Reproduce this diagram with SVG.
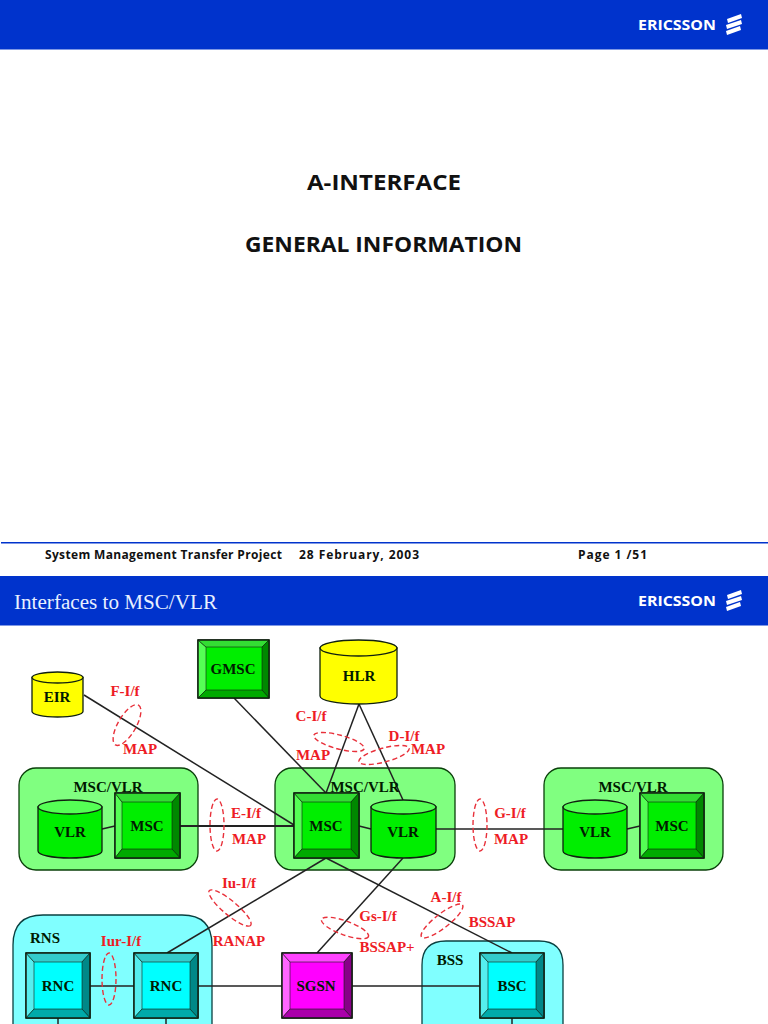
<svg xmlns="http://www.w3.org/2000/svg" width="768" height="1024" viewBox="0 0 768 1024">
<style>
.band{fill:#0033cc}
.logo{font:700 14.5px "Open Sans",sans-serif;fill:#fff}
.comic{font-family:"Open Sans",sans-serif;font-weight:700;fill:#111}
.b{font:700 15px "Liberation Serif",serif;fill:#001a00;text-anchor:middle}
.r{font:700 15px "Liberation Serif",serif;fill:#ee1c25;text-anchor:middle}
.c{stroke:#222;stroke-width:1.5;fill:none}
.d{fill:none;stroke:#e8303a;stroke-width:1.4;stroke-dasharray:5 3}
.o{stroke:#102010;stroke-width:1.3}
.e{stroke:#102010;stroke-width:.6;fill:none}
.gg{fill:#80ff80;stroke:#0a400a;stroke-width:1.3}
.cg{fill:#80ffff;stroke:#0a4040;stroke-width:1.3}
.yb{fill:#ffff00}.yt{fill:#ffff00}
.g0{fill:#00ee00}.g1{fill:#55ff55}.g2{fill:#33dd33}.g3{fill:#008800}.g4{fill:#00aa00}
.a0{fill:#00ffff}.a1{fill:#55eeee}.a2{fill:#33cccc}.a3{fill:#008888}.a4{fill:#00aaaa}
.m0{fill:#ff00ff}.m1{fill:#ff66ff}.m2{fill:#ff44ff}.m3{fill:#880088}.m4{fill:#aa00aa}
</style>
<defs>
<g id="stripes" fill="#fff"><path d="M727 19 741 14 742 18 728 23Z"/><path d="M726 25 741 20 742 24 727 29Z"/><path d="M726 31 740 26 741 30 727 35Z"/></g>
</defs>
<rect width="768" height="1024" fill="#fff"/>

<g id="slide1">
<rect class="band" width="768" height="49.500"/>
<text class="logo" x="638" y="30" textLength="78" lengthAdjust="spacingAndGlyphs">ERICSSON</text>
<use href="#stripes"/>
<text class="comic" x="307" y="190" font-size="21" textLength="154" lengthAdjust="spacingAndGlyphs">A-INTERFACE</text>
<text class="comic" x="245" y="252" font-size="21" textLength="277" lengthAdjust="spacingAndGlyphs">GENERAL INFORMATION</text>
<rect x="1" y="542" width="767" height="1.500" fill="#0033cc"/>
<text class="comic" x="45" y="558.500" font-size="12" textLength="237" lengthAdjust="spacing">System Management Transfer Project</text>
<text class="comic" x="299" y="558.500" font-size="12" textLength="120" lengthAdjust="spacing">28 February, 2003</text>
<text class="comic" x="578" y="558.500" font-size="12" textLength="69" lengthAdjust="spacing">Page 1 /51</text>
</g>

<g id="slide2-header">
<rect class="band" y="576" width="768" height="49.500"/>
<text x="14" y="609" font-family="'Liberation Serif',serif" font-size="20.500" fill="#e8f0ff" textLength="203" lengthAdjust="spacingAndGlyphs">Interfaces to MSC/VLR</text>
<text class="logo" x="638" y="606" textLength="78" lengthAdjust="spacingAndGlyphs">ERICSSON</text>
<use href="#stripes" y="576"/>
</g>

<g id="containers">
<rect id="group-left" class="gg" x="19" y="768" width="179" height="102" rx="17"/>
<rect id="group-center" class="gg" x="275" y="768" width="180" height="102" rx="17"/>
<rect id="group-right" class="gg" x="544" y="768" width="179" height="102" rx="17"/>
<path id="group-rns" class="cg" d="M13 1025V945Q13 915 43 915H182Q212 915 212 945V1025"/>
<path id="group-bss" class="cg" d="M422 1025V965Q422 941 446 941H539Q563 941 563 965V1025"/>
<text class="b" x="108" y="792">MSC/VLR</text>
<text class="b" x="633" y="792">MSC/VLR</text>
<text class="b" x="45" y="943">RNS</text>
<text class="b" x="450" y="965">BSS</text>
</g>

<g id="connectors">
<path class="c" d="M84 695 294 825"/>
<path class="c" d="M234 698 326 793"/>
<path class="c" d="M359 704 326 793"/>
<path class="c" d="M359 704 403 800"/>
<path class="c" style="stroke-width:2.200" d="M180 826H294"/>
<path class="c" d="M102 829 115 826"/>
<path class="c" d="M359 826 371 829"/>
<path class="c" d="M436 829H563"/>
<path class="c" d="M627 829 640 826"/>
<path class="c" d="M326 858 167 953"/>
<path class="c" d="M326 858 512 953"/>
<path class="c" d="M403 858 317 953"/>
<path class="c" d="M90 986H134"/>
<path class="c" d="M198 986H282"/>
<path class="c" d="M352 986H480"/>
<path class="c" d="M58 1018V1025"/>
<path class="c" d="M166 1018V1025"/>
<path class="c" d="M512 1018V1025"/>
</g>

<g id="EIR">
<path class="yb o" d="M32 677.500V711.500C32 714.500 43 717 57.500 717S83 714.500 83 711.500V677.500Z"/>
<ellipse class="yt o" cx="57.500" cy="677.500" rx="25.500" ry="5.500"/>
<text class="b" x="57" y="702">EIR</text>
</g>
<g id="HLR">
<path class="yb o" d="M320 648V696C320 700.500 337 704 358.500 704S397 700.500 397 696V648Z"/>
<ellipse class="yt o" cx="358.500" cy="648" rx="38.500" ry="8"/>
<text class="b" x="359" y="681">HLR</text>
</g>
<g id="GMSC">
<rect class="g0 o" x="198" y="640" width="71" height="58"/>
<path class="g1 e" d="M198 640 206 647V690L198 698Z"/>
<path class="g2 e" d="M198 640H269L262 647H206Z"/>
<path class="g3 e" d="M269 640V698L262 690V647Z"/>
<path class="g4 e" d="M198 698H269L262 690H206Z"/>
<rect class="o" x="198" y="640" width="71" height="58" fill="none"/>
<text class="b" x="233" y="674">GMSC</text>
</g>

<g id="VLR-left">
<path class="g0 o" d="M38 807V851C38 855 52 858 70 858S102 855 102 851V807Z"/>
<ellipse class="g1 o" cx="70" cy="807" rx="32" ry="7"/>
<text class="b" x="70" y="837">VLR</text>
</g>
<g id="MSC-left">
<rect class="g0 o" x="115" y="793" width="65" height="65"/>
<path class="g1 e" d="M115 793 122 802V849L115 858Z"/>
<path class="g2 e" d="M115 793H180L172 802H122Z"/>
<path class="g3 e" d="M180 793V858L172 849V802Z"/>
<path class="g4 e" d="M115 858H180L172 849H122Z"/>
<rect class="o" x="115" y="793" width="65" height="65" fill="none"/>
<text class="b" x="147" y="831">MSC</text>
</g>
<g id="MSC-center">
<rect class="g0 o" x="294" y="793" width="65" height="65"/>
<path class="g1 e" d="M294 793 302 802V849L294 858Z"/>
<path class="g2 e" d="M294 793H359L351 802H302Z"/>
<path class="g3 e" d="M359 793V858L351 849V802Z"/>
<path class="g4 e" d="M294 858H359L351 849H302Z"/>
<rect class="o" x="294" y="793" width="65" height="65" fill="none"/>
<text class="b" x="326" y="831">MSC</text>
</g>
<g id="VLR-center">
<path class="g0 o" d="M371 807V851C371 855 385 858 403.500 858S436 855 436 851V807Z"/>
<ellipse class="g1 o" cx="403.500" cy="807" rx="32.500" ry="7"/>
<text class="b" x="403" y="837">VLR</text>
</g>
<text class="b" x="365" y="792">MSC/VLR</text>
<g id="VLR-right">
<path class="g0 o" d="M563 807V851C563 855 577 858 595 858S627 855 627 851V807Z"/>
<ellipse class="g1 o" cx="595" cy="807" rx="32" ry="7"/>
<text class="b" x="595" y="837">VLR</text>
</g>
<g id="MSC-right">
<rect class="g0 o" x="640" y="793" width="64" height="65"/>
<path class="g1 e" d="M640 793 648 802V849L640 858Z"/>
<path class="g2 e" d="M640 793H704L696 802H648Z"/>
<path class="g3 e" d="M704 793V858L696 849V802Z"/>
<path class="g4 e" d="M640 858H704L696 849H648Z"/>
<rect class="o" x="640" y="793" width="64" height="65" fill="none"/>
<text class="b" x="672" y="831">MSC</text>
</g>

<g id="RNC-left">
<rect class="a0 o" x="26" y="953" width="64" height="65"/>
<path class="a1 e" d="M26 953 34 962V1009L26 1018Z"/>
<path class="a2 e" d="M26 953H90L82 962H34Z"/>
<path class="a3 e" d="M90 953V1018L82 1009V962Z"/>
<path class="a4 e" d="M26 1018H90L82 1009H34Z"/>
<rect class="o" x="26" y="953" width="64" height="65" fill="none"/>
<text class="b" x="58" y="991">RNC</text>
</g>
<g id="RNC-right">
<rect class="a0 o" x="134" y="953" width="64" height="65"/>
<path class="a1 e" d="M134 953 142 962V1009L134 1018Z"/>
<path class="a2 e" d="M134 953H198L190 962H142Z"/>
<path class="a3 e" d="M198 953V1018L190 1009V962Z"/>
<path class="a4 e" d="M134 1018H198L190 1009H142Z"/>
<rect class="o" x="134" y="953" width="64" height="65" fill="none"/>
<text class="b" x="166" y="991">RNC</text>
</g>
<g id="SGSN">
<rect class="m0 o" x="282" y="953" width="70" height="65"/>
<path class="m1 e" d="M282 953 290 962V1009L282 1018Z"/>
<path class="m2 e" d="M282 953H352L344 962H290Z"/>
<path class="m3 e" d="M352 953V1018L344 1009V962Z"/>
<path class="m4 e" d="M282 1018H352L344 1009H290Z"/>
<rect class="o" x="282" y="953" width="70" height="65" fill="none"/>
<text class="b" x="316" y="991">SGSN</text>
</g>
<g id="BSC">
<rect class="a0 o" x="480" y="953" width="64" height="65"/>
<path class="a1 e" d="M480 953 488 962V1009L480 1018Z"/>
<path class="a2 e" d="M480 953H544L536 962H488Z"/>
<path class="a3 e" d="M544 953V1018L536 1009V962Z"/>
<path class="a4 e" d="M480 1018H544L536 1009H488Z"/>
<rect class="o" x="480" y="953" width="64" height="65" fill="none"/>
<text class="b" x="512" y="991">BSC</text>
</g>

<g id="interfaces">
<ellipse class="d" cx="127" cy="725" rx="23" ry="9" transform="rotate(-60 127 725)"/>
<ellipse class="d" cx="339" cy="742" rx="26" ry="7" transform="rotate(15 339 742)"/>
<ellipse class="d" cx="384" cy="755" rx="26" ry="7" transform="rotate(-15 384 755)"/>
<ellipse class="d" cx="217" cy="825" rx="7" ry="26"/>
<ellipse class="d" cx="480" cy="825" rx="7" ry="26"/>
<ellipse class="d" cx="230" cy="908" rx="27" ry="7" transform="rotate(40 230 908)"/>
<ellipse class="d" cx="109" cy="979" rx="7" ry="26"/>
<ellipse class="d" cx="345" cy="928" rx="25" ry="7" transform="rotate(20 345 928)"/>
<ellipse class="d" cx="442" cy="921" rx="26" ry="7" transform="rotate(-38 442 921)"/>
<text class="r" x="125" y="696">F-I/f</text>
<text class="r" x="140" y="754">MAP</text>
<text class="r" x="311" y="721">C-I/f</text>
<text class="r" x="313" y="760">MAP</text>
<text class="r" x="404" y="741">D-I/f</text>
<text class="r" x="428" y="754">MAP</text>
<text class="r" x="246" y="818">E-I/f</text>
<text class="r" x="249" y="844">MAP</text>
<text class="r" x="510" y="818">G-I/f</text>
<text class="r" x="511" y="844">MAP</text>
<text class="r" x="239" y="888">Iu-I/f</text>
<text class="r" x="239" y="946">RANAP</text>
<text class="r" x="121" y="946">Iur-I/f</text>
<text class="r" x="378" y="921">Gs-I/f</text>
<text class="r" x="387" y="952">BSSAP+</text>
<text class="r" x="446" y="902">A-I/f</text>
<text class="r" x="492" y="927">BSSAP</text>
</g>
</svg>
